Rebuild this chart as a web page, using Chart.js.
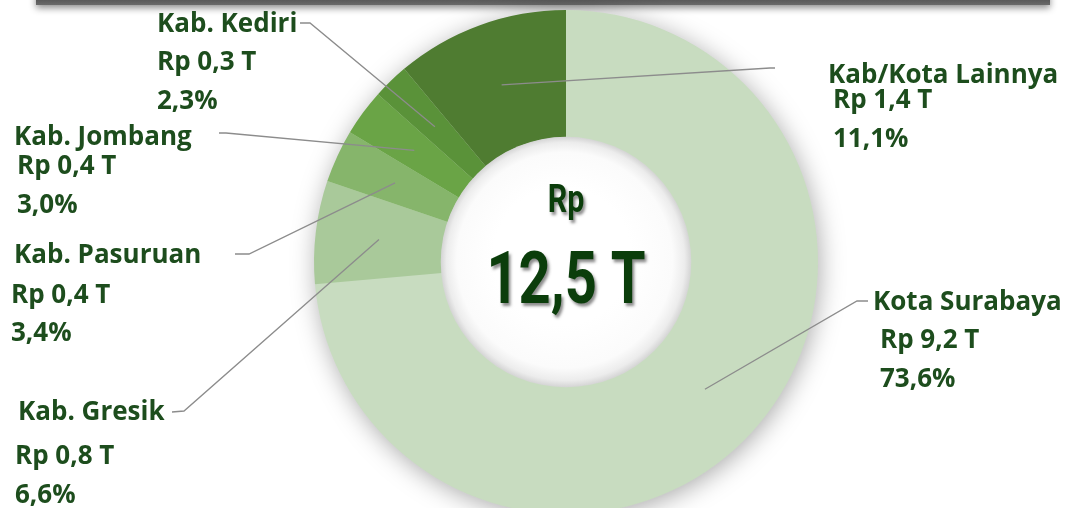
<!DOCTYPE html>
<html>
<head>
<meta charset="utf-8">
<script src="https://cdn.jsdelivr.net/npm/chart.js@4.4.1/dist/chart.umd.min.js"></script>
<style>
    html, body { margin: 0; padding: 0; background: #ffffff; overflow: hidden; }
    body { width: 1073px; height: 508px; position: relative; }
    .top-bar {
        position: absolute; left: 36px; top: -8px; width: 1014px; height: 13px;
        background: linear-gradient(#3f3f3f, #6a6a6a);
        box-shadow: 0 3px 7px rgba(0, 0, 0, 0.45);
    }
    .chart-wrap { position: absolute; left: 0; top: 0; width: 1073px; height: 520px; }
</style>
</head>
<body>
<div class="top-bar"></div>
<div class="chart-wrap"><canvas id="shareChart"></canvas></div>
<script>
// Data
const regions = ['Kota Surabaya', 'Kab. Gresik', 'Kab. Pasuruan', 'Kab. Jombang', 'Kab. Kediri', 'Kab/Kota Lainnya'];
const valuesT = [9.2, 0.8, 0.4, 0.4, 0.3, 1.4];      // Rp trillion
const shares = [73.6, 6.6, 3.4, 3.0, 2.3, 11.1];     // percent
const totalLabel = ['Rp', '12,5 T'];

const sliceColors = ['#c8dcc0', '#a9c99a', '#86b56b', '#6aa446', '#5a9239', '#4f7c31'];

// Label layout: line x offsets, line y, and leader line start / elbow
const labelLayout = [
    { xs: [873, 880, 880], ys: [302, 340, 379], from: [868, 301], elbow: [857, 301] },
    { xs: [18, 15, 15], ys: [412, 456, 495], from: [172, 412], elbow: [184, 411] },
    { xs: [14, 11, 11], ys: [255, 295, 333], from: [235, 254], elbow: [249, 254] },
    { xs: [14, 17, 17], ys: [137, 166, 205], from: [219, 133], elbow: [226, 133] },
    { xs: [157, 157, 157], ys: [24, 62, 101], from: [300, 23], elbow: [310, 23] },
    { xs: [828, 833, 833], ys: [75, 100, 139], from: [775, 68], elbow: [770, 68] }
];

function fmt(n) {
    return n.toFixed(1).replace('.', ',');
}

// draws condensed text by squeezing a regular bold face
function narrowText(ctx, text, x, y, size, squeeze) {
    ctx.save();
    ctx.translate(x, y);
    ctx.scale(squeeze, 1);
    ctx.font = `bold ${size}px Roboto`;
    ctx.fillText(text, 0, 0);
    ctx.restore();
}

// Soft shadow behind the ring and a shaded hole
const ringBackdrop = {
    id: 'ringBackdrop',
    beforeDatasetsDraw(chart) {
        const arc = chart.getDatasetMeta(0).data[0];
        if (!arc) return;
        const { x, y, outerRadius } = arc.getProps(['x', 'y', 'outerRadius'], true);
        const ctx = chart.ctx;
        ctx.save();
        ctx.shadowColor = 'rgba(0, 0, 0, 0.35)';
        ctx.shadowBlur = 26;
        ctx.shadowOffsetX = 2;
        ctx.shadowOffsetY = 4;
        ctx.fillStyle = '#c8dcc0';
        ctx.beginPath();
        ctx.arc(x, y, outerRadius - 1, 0, Math.PI * 2);
        ctx.fill();
        ctx.restore();
    },
    afterDatasetsDraw(chart) {
        const arc = chart.getDatasetMeta(0).data[0];
        if (!arc) return;
        const { x, y, innerRadius } = arc.getProps(['x', 'y', 'innerRadius'], true);
        const ctx = chart.ctx;
        ctx.save();
        const g = ctx.createRadialGradient(x - 4, y - 6, innerRadius * 0.55, x, y, innerRadius);
        g.addColorStop(0, '#ffffff');
        g.addColorStop(0.7, '#fbfbfb');
        g.addColorStop(0.9, '#ececec');
        g.addColorStop(1, '#d6d6d6');
        ctx.fillStyle = g;
        ctx.beginPath();
        ctx.arc(x, y, innerRadius + 0.5, 0, Math.PI * 2);
        ctx.fill();

        // total in the hole
        ctx.textAlign = 'center';
        ctx.textBaseline = 'alphabetic';
        ctx.shadowColor = 'rgba(0, 0, 0, 0.45)';
        ctx.shadowBlur = 3;
        ctx.shadowOffsetX = 2;
        ctx.shadowOffsetY = 3;
        ctx.fillStyle = '#0b3d0b';
        narrowText(ctx, totalLabel[0], x, y - 50, 38, 0.8);
        narrowText(ctx, totalLabel[1], x, y + 41, 72, 0.78);
        ctx.restore();
    }
};

// Outside labels with leader lines
const leaderLabels = {
    id: 'leaderLabels',
    afterDraw(chart) {
        const ctx = chart.ctx;
        const arcs = chart.getDatasetMeta(0).data;
        ctx.save();
        arcs.forEach((arc, i) => {
            const lay = labelLayout[i];
            const p = arc.tooltipPosition();
            ctx.strokeStyle = '#8c8c8c';
            ctx.lineWidth = 1.3;
            ctx.beginPath();
            ctx.moveTo(lay.from[0], lay.from[1]);
            ctx.lineTo(lay.elbow[0], lay.elbow[1]);
            ctx.lineTo(p.x, p.y);
            ctx.stroke();

            const lines = [regions[i], 'Rp ' + fmt(valuesT[i]) + ' T', fmt(shares[i]) + '%'];
            ctx.fillStyle = '#1d4d1d';
            ctx.font = 'bold 26px "Open Sans"';
            ctx.textAlign = 'left';
            ctx.textBaseline = 'middle';
            lines.forEach((t, k) => ctx.fillText(t, lay.xs[k], lay.ys[k] + 1));
        });
        ctx.restore();
    }
};

new Chart(document.getElementById('shareChart'), {
    type: 'doughnut',
    data: {
        labels: regions,
        datasets: [{
            data: shares,
            backgroundColor: sliceColors,
            borderWidth: 0
        }]
    },
    options: {
        responsive: true,
        maintainAspectRatio: false,
        animation: false,
        events: [],
        cutout: '49.5%',
        layout: { padding: { left: 59, right: 0, top: 10, bottom: 6 } },
        plugins: {
            legend: { display: false },
            tooltip: { enabled: false }
        }
    },
    plugins: [ringBackdrop, leaderLabels]
});
</script>
</body>
</html>
